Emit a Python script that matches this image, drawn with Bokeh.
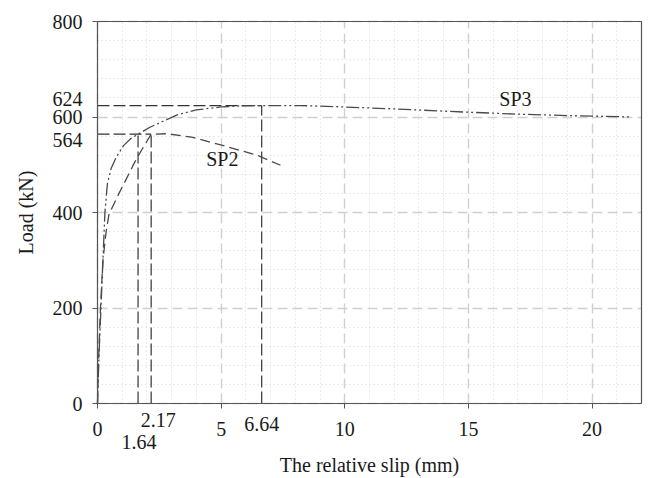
from bokeh.plotting import figure
from bokeh.models import Range1d, FixedTicker, Label
from bokeh.embed import file_html
from bokeh.resources import INLINE

# ---- data ----
sp2_x = [0, 0.05, 0.12, 0.22, 0.35, 0.46, 0.6, 0.86, 1.27, 1.5, 1.81, 2.17, 2.8, 3.8, 5.1, 6.5, 7.4]
sp2_y = [0, 100, 200, 300, 360, 395, 411, 439, 481, 505, 533, 564, 565, 558, 540, 519, 499]

sp3_x = [0, 0.06, 0.14, 0.22, 0.3, 0.4, 0.55, 0.75, 1.05, 1.35, 1.64, 2.1, 2.6, 3.2, 4.0, 5.0,
         5.8, 6.64, 8.2, 10, 12, 15, 17, 19, 21.6]
sp3_y = [0, 100, 200, 300, 400, 460, 492, 515, 540, 555, 564, 578, 590, 604, 615, 621,
         623.5, 624, 624, 621, 617, 610, 606, 603, 600]

x_ticks = [0, 5, 10, 15, 20]
y_ticks = [0, 200, 400, 600, 800]
x_minor = [v for v in range(0, 23) if v % 5 != 0]
y_minor = [v for v in range(0, 801, 40) if v % 200 != 0]

sp2_peak_slip, sp2_peak_load = 2.17, 564
sp3_slip_at_564 = 1.64
sp3_peak_slip, sp3_peak_load = 6.64, 624

X_LO, X_HI = 0, 22
Y_LO, Y_HI = 0, 800

# ---- layout (pixels) ----
W, H = 646, 478
BOX_L, BOX_R, BOX_T, BOX_B = 97, 641, 21, 403
kx = (BOX_R - BOX_L) / (X_HI - X_LO)
ky = (BOX_B - BOX_T) / (Y_HI - Y_LO)

FONT = "Liberation Serif"
TXT = "#1a1a1a"
LINE = "#4a4a4a"
AX = "#555555"

p = figure(width=W, height=H,
           x_range=Range1d(X_LO - BOX_L / kx, X_HI + (W - BOX_R) / kx),
           y_range=Range1d(Y_LO - (H - BOX_B) / ky, Y_HI + BOX_T / ky),
           output_backend="svg", toolbar_location=None, min_border=0)
p.background_fill_color = "white"
p.border_fill_color = "white"
p.outline_line_color = None

p.xaxis.ticker = FixedTicker(ticks=x_ticks, minor_ticks=x_minor)
p.yaxis.ticker = FixedTicker(ticks=y_ticks, minor_ticks=y_minor)
p.xaxis.fixed_location = Y_LO
p.yaxis.fixed_location = X_LO
p.xaxis.bounds = (X_LO, X_HI)
p.yaxis.bounds = (Y_LO, Y_HI)

for ax in (p.xaxis[0], p.yaxis[0]):
    ax.axis_line_color = AX
    ax.axis_line_width = 1.2
    ax.major_tick_out = 5
    ax.major_tick_in = 0
    ax.major_tick_line_color = AX
    ax.minor_tick_out = 0
    ax.minor_tick_in = 0
    ax.major_label_text_font = FONT
    ax.major_label_text_font_size = "20px"
    ax.major_label_text_color = TXT
    ax.major_label_standoff = 10
    ax.axis_label_text_font = FONT
    ax.axis_label_text_font_size = "20px"
    ax.axis_label_text_font_style = "normal"
    ax.axis_label_text_color = TXT
    ax.axis_label_standoff = 12

p.xaxis.major_label_standoff = 13
p.xaxis.axis_label_standoff = 15
p.xaxis.axis_label = "The relative slip (mm)"
p.yaxis.axis_label = "Load (kN)"
p.yaxis.axis_label_standoff = 13

for g in (p.xgrid[0], p.ygrid[0]):
    g.grid_line_color = "#cfcfcf"
    g.grid_line_dash = "10 5"
    g.grid_line_width = 1.4
    g.minor_grid_line_color = "#d6d6d6"
    g.minor_grid_line_dash = "1 3"
    g.minor_grid_line_width = 1
p.xgrid[0].bounds = (X_LO, X_HI)
p.xgrid[0].cross_bounds = (Y_LO, Y_HI)
p.ygrid[0].bounds = (Y_LO, Y_HI)
p.ygrid[0].cross_bounds = (X_LO, X_HI)

# top and right frame lines of the plot box
p.line([X_LO, X_HI, X_HI], [Y_HI, Y_HI, Y_LO], line_color=AX, line_width=1.2)

# reference lines
ref = dict(line_color="#333333", line_width=1.2, line_dash="12 4")
p.line([0, sp2_peak_slip], [sp2_peak_load, sp2_peak_load], **ref)
p.line([0, sp3_peak_slip], [sp3_peak_load, sp3_peak_load], **ref)
p.line([sp3_slip_at_564, sp3_slip_at_564], [0, sp2_peak_load], **ref)
p.line([sp2_peak_slip, sp2_peak_slip], [0, sp2_peak_load], **ref)
p.line([sp3_peak_slip, sp3_peak_slip], [0, sp3_peak_load], **ref)

# curves
p.line(sp2_x, sp2_y, line_color=LINE, line_width=1.3, line_dash="10 5")
p.line(sp3_x, sp3_y, line_color=LINE, line_width=1.3, line_dash="13 3 2 3 2 3")

kw = dict(text_font=FONT, text_font_size="20px", text_color=TXT, text_baseline="middle")

# curve labels
p.add_layout(Label(x=5.05, y=513, text="SP2", text_align="center", **kw))
p.add_layout(Label(x=16.9, y=637, text="SP3", text_align="center", **kw))

# extra value labels (screen y measured from bottom of canvas)
p.add_layout(Label(x=BOX_L - 15, x_units="screen", y=H - 98, y_units="screen",
                   text=str(sp3_peak_load), text_align="right", **kw))
p.add_layout(Label(x=BOX_L - 15, x_units="screen", y=H - 139, y_units="screen",
                   text=str(sp2_peak_load), text_align="right", **kw))
p.add_layout(Label(x=sp2_peak_slip, y=H - 419, y_units="screen", x_offset=7,
                   text=f"{sp2_peak_slip:.2f}", text_align="center", **kw))
p.add_layout(Label(x=sp3_slip_at_564, y=H - 441, y_units="screen", x_offset=1,
                   text=f"{sp3_slip_at_564:.2f}", text_align="center", **kw))
p.add_layout(Label(x=sp3_peak_slip, y=H - 423, y_units="screen",
                   text=f"{sp3_peak_slip:.2f}", text_align="center", **kw))

open("out.html", "w").write(file_html(p, INLINE))
